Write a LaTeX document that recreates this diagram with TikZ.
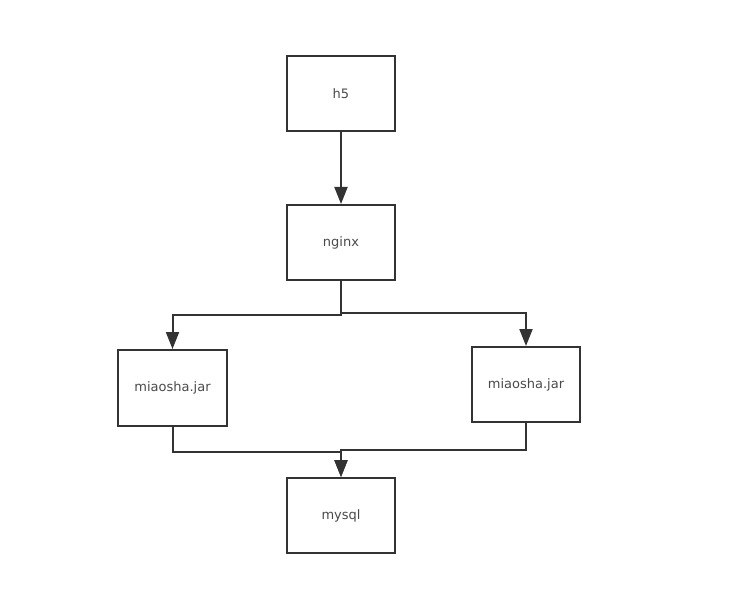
\documentclass[tikz,border=0pt]{standalone}
\usepackage{fontspec}
\setmainfont{DejaVu Sans}
\usetikzlibrary{arrows.meta}
\definecolor{linegray}{HTML}{333333}
\definecolor{textgray}{HTML}{4A4A4A}
\tikzset{
  box/.style={draw=linegray, line width=2pt, minimum width=108pt, minimum height=75pt,
    inner sep=0pt, font=\fontsize{13}{15}\selectfont, text=textgray},
  flow/.style={draw=linegray, line width=2pt, -{Triangle[length=17pt,width=13pt]}},
}
\begin{document}
\begin{tikzpicture}[x=1pt,y=-1pt]
    % frame
    \useasboundingbox (0,0) rectangle (749,601);

    % boxes
    \node[box] (h5) at (341,93.5) {h5};
    \node[box] (nginx) at (341,242.5) {nginx};
    \node[box, minimum width=109pt, minimum height=76pt] (jarL) at (172.5,388) {miaosha.jar};
    \node[box] (jarR) at (526,384.5) {miaosha.jar};
    \node[box] (mysql) at (341,515.5) {mysql};

    % bends
    \coordinate (splitL) at (341,315);
    \coordinate (splitR) at (341,313);
    \coordinate (joinL) at (341,452);
    \coordinate (joinR) at (341,450);

    % connectors
    \draw[flow] (h5) -- (nginx);
    \draw[flow] (nginx.south) -- (splitL) -| (jarL.north);
    \draw[flow] (nginx.south) -- (splitR) -| (jarR.north);
    \draw[flow] (jarL.south) |- (joinL) -- (mysql.north);
    \draw[flow] (jarR.south) |- (joinR) -- (mysql.north);
\end{tikzpicture}
\end{document}
